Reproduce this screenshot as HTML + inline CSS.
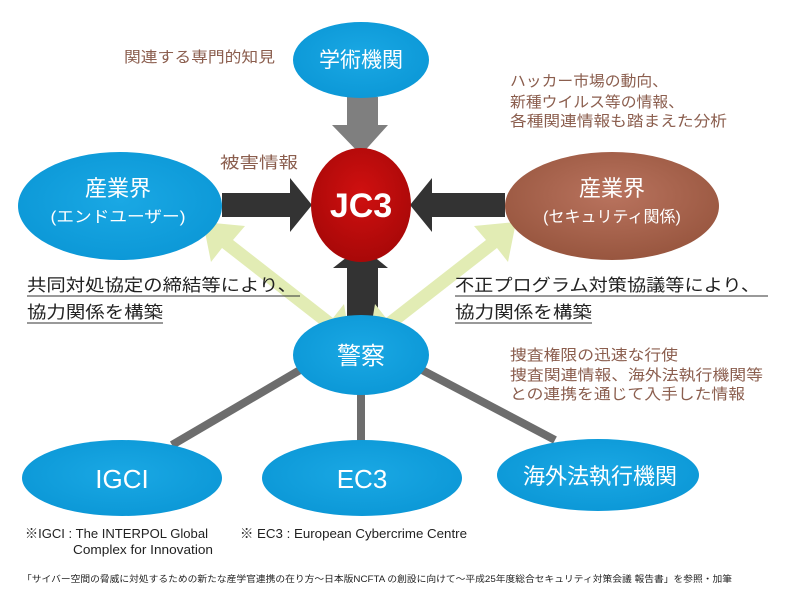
<!DOCTYPE html><html><head><meta charset="utf-8"><style>body{margin:0;background:#fff}svg{display:block}text{font-family:"Liberation Sans","Noto Sans CJK JP",sans-serif}</style></head><body>
<svg width="800" height="605" viewBox="0 0 800 605">
<defs><radialGradient id="b" cx="50%" cy="45%" r="60%"><stop offset="0" stop-color="#1aa8e4"/><stop offset="1" stop-color="#0b97d6"/></radialGradient>
<radialGradient id="r" cx="50%" cy="40%" r="60%"><stop offset="0" stop-color="#d01010"/><stop offset="1" stop-color="#a80808"/></radialGradient>
<radialGradient id="br" cx="50%" cy="40%" r="60%"><stop offset="0" stop-color="#b9735e"/><stop offset="1" stop-color="#98563f"/></radialGradient></defs>
<g stroke="#6d6d6d" stroke-width="8"><line x1="300" y1="370" x2="172" y2="445"/><line x1="361" y1="390" x2="361" y2="445"/><line x1="422" y1="370" x2="555" y2="440"/></g>
<polygon points="347,97 378,97 378,125 388,125 361,155 332,125 347,125" fill="#7f7f7f"/>
<polygon points="222,193 290,193 290,178 312,205 290,232 290,217 222,217" fill="#333"/>
<polygon points="505,193 432,193 432,178 410,205 432,232 432,217 505,217" fill="#333"/>
<polygon points="347,330 347,268 333,268 361,246 388,268 378,268 378,330" fill="#333"/>
<g fill="#e2ecb4">
<polygon points="203,222 245,226 233,240 333,318 344,304 350,340 310,336 322,326 222,248 211,262"/>
<polygon points="516,222 474,226 486,240 386,318 375,304 369,340 409,336 397,326 497,248 508,262"/></g>
<ellipse cx="361" cy="60" rx="68" ry="38" fill="url(#b)"/>
<ellipse cx="361" cy="205" rx="50" ry="57" fill="url(#r)"/>
<ellipse cx="120" cy="206" rx="102" ry="54" fill="url(#b)"/>
<ellipse cx="612" cy="206" rx="107" ry="54" fill="url(#br)"/>
<ellipse cx="361" cy="355" rx="68" ry="40" fill="url(#b)"/>
<ellipse cx="122" cy="478" rx="100" ry="38" fill="url(#b)"/>
<ellipse cx="362" cy="478" rx="100" ry="38" fill="url(#b)"/>
<ellipse cx="598" cy="475" rx="101" ry="36" fill="url(#b)"/>
<g fill="#fff" text-anchor="middle">
<text x="361" y="67" font-size="21">学術機関</text>
<text x="361" y="217" font-size="34" font-weight="bold">JC3</text>
<text x="118" y="196" font-size="22">産業界</text><text x="118" y="222" font-size="16" textLength="135" lengthAdjust="spacingAndGlyphs">(エンドユーザー)</text>
<text x="612" y="196" font-size="22">産業界</text><text x="612" y="222" font-size="16">(セキュリティ関係)</text>
<text x="361" y="364" font-size="24">警察</text>
<text x="122" y="488" font-size="26">IGCI</text><text x="362" y="488" font-size="26">EC3</text><text x="600" y="484" font-size="22">海外法執行機関</text></g>
<g fill="#8b5e4e" font-size="15" lengthAdjust="spacingAndGlyphs">
<text x="124" y="62" textLength="151" lengthAdjust="spacingAndGlyphs">関連する専門的知見</text>
<text x="510" y="86" textLength="158" lengthAdjust="spacingAndGlyphs">ハッカー市場の動向、</text><text x="510" y="107" textLength="174" lengthAdjust="spacingAndGlyphs">新種ウイルス等の情報、</text><text x="510" y="126" textLength="217" lengthAdjust="spacingAndGlyphs">各種関連情報も踏まえた分析</text>
<text x="220" y="168" font-size="16" textLength="78" lengthAdjust="spacingAndGlyphs">被害情報</text>
<text x="510" y="360" textLength="168" lengthAdjust="spacingAndGlyphs">捜査権限の迅速な行使</text><text x="510" y="380" textLength="253" lengthAdjust="spacingAndGlyphs">捜査関連情報、海外法執行機関等</text><text x="510" y="399" textLength="235" lengthAdjust="spacingAndGlyphs">との連携を通じて入手した情報</text></g>
<g fill="#222" font-size="17">
<text x="27" y="291" textLength="270" lengthAdjust="spacingAndGlyphs">共同対処協定の締結等により、</text><text x="27" y="318" textLength="136" lengthAdjust="spacingAndGlyphs">協力関係を構築</text>
<text x="455" y="291" textLength="305" lengthAdjust="spacingAndGlyphs">不正プログラム対策協議等により、</text><text x="455" y="318" textLength="137" lengthAdjust="spacingAndGlyphs">協力関係を構築</text></g>
<g stroke="#333" stroke-width="1"><line x1="27" y1="296" x2="300" y2="296"/><line x1="27" y1="323" x2="163" y2="323"/><line x1="455" y1="296" x2="768" y2="296"/><line x1="455" y1="323" x2="592" y2="323"/></g>
<g fill="#222" font-size="13"><text x="25" y="538" textLength="183" lengthAdjust="spacingAndGlyphs">※IGCI : The INTERPOL Global</text><text x="73" y="554" textLength="140" lengthAdjust="spacingAndGlyphs">Complex for Innovation</text>
<text x="240" y="538" textLength="227" lengthAdjust="spacingAndGlyphs">※ EC3 : European Cybercrime Centre</text>
<text x="22" y="582" font-size="9" textLength="710" lengthAdjust="spacingAndGlyphs">「サイバー空間の脅威に対処するための新たな産学官連携の在り方〜日本版NCFTA の創設に向けて〜平成25年度総合セキュリティ対策会議 報告書」を参照・加筆</text></g>
</svg></body></html>
